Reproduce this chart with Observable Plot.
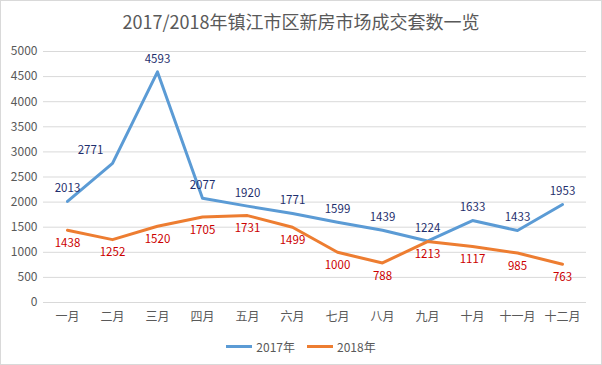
<!DOCTYPE html>
<html>
<head>
<meta charset="utf-8">
<script src="https://cdn.jsdelivr.net/npm/d3@7"></script>
<script src="https://cdn.jsdelivr.net/npm/@observablehq/plot@0.6"></script>
<style>
  html, body { margin: 0; padding: 0; background: #fff; }
  #frame { width: 602px; height: 365px; box-sizing: border-box; border: 1px solid #d9d9d9; overflow: hidden;
    font-family: "Noto Sans CJK SC", "Noto Sans", sans-serif; }
  #title { height: 40px; line-height: 40px; text-align: center; font-size: 18px; color: #595959; }
  #legend { height: 30px; display: flex; justify-content: center; align-items: center; gap: 6px;
    font-size: 12px; color: #595959; }
  .sw { display: inline-block; width: 26px; height: 3px; margin-right: 4px; vertical-align: middle; }
  .item { display: flex; align-items: center; margin: 0 3px; }
</style>
</head>
<body>
<div id="frame">
  <div id="title">2017/2018年镇江市区新房市场成交套数一览</div>
  <div id="chart"></div>
  <div id="legend"></div>
</div>
<script>
const months = ["一月","二月","三月","四月","五月","六月","七月","八月","九月","十月","十一月","十二月"];
const series = ["2017年", "2018年"];
const values2017 = [2013, 2771, 4593, 2077, 1920, 1771, 1599, 1439, 1224, 1633, 1433, 1953];
const values2018 = [1438, 1252, 1520, 1705, 1731, 1499, 1000, 788, 1213, 1117, 985, 763];
const yTicks = [0, 500, 1000, 1500, 2000, 2500, 3000, 3500, 4000, 4500, 5000];

const colors = {"2017年": "#5b9bd5", "2018年": "#ed7d31"};
const labelColors = {"2017年": "#1f2f6e", "2018年": "#cc0000"};

const data = [
  ...months.map((m, i) => ({month: m, series: series[0], value: values2017[i]})),
  ...months.map((m, i) => ({month: m, series: series[1], value: values2018[i]}))
];
const d17 = data.filter(d => d.series === series[0]);
const d18 = data.filter(d => d.series === series[1]);

const chart = Plot.plot({
  width: 600,
  height: 290,
  marginTop: 10,
  marginBottom: 29,
  marginLeft: 42,
  marginRight: 15,
  style: {fontFamily: '"Noto Sans CJK SC", "Noto Sans", sans-serif', background: "#fff"},
  x: {type: "point", domain: months, padding: 0.5, label: null},
  y: {domain: [0, 5000], ticks: yTicks, label: null},
  marks: [
    Plot.ruleY(yTicks, {stroke: "#d9d9d9", strokeWidth: 1}),
    Plot.axisY({ticks: yTicks, tickSize: 0, tickPadding: 6, tickFormat: d => String(d), fontSize: 12, color: "#595959", label: null}),
    Plot.axisX({tickSize: 0, tickPadding: 10, fontSize: 12, color: "#595959", label: null}),
    Plot.line(d17, {x: "month", y: "value", stroke: colors["2017年"], strokeWidth: 3}),
    Plot.line(d18, {x: "month", y: "value", stroke: colors["2018年"], strokeWidth: 3}),
    Plot.text(d17.filter(d => d.month !== "二月"), {x: "month", y: "value", text: d => String(d.value), dy: -13, fill: labelColors["2017年"], fontSize: 11.5}),
    Plot.text(d17.filter(d => d.month === "二月"), {x: "month", y: "value", text: d => String(d.value), dy: -13, dx: -22, fill: labelColors["2017年"], fontSize: 11.5}),
    Plot.text(d18, {x: "month", y: "value", text: d => String(d.value), dy: 13, fill: labelColors["2018年"], fontSize: 11.5})
  ]
});
document.getElementById("chart").appendChild(chart);

const legend = document.getElementById("legend");
series.forEach(s => {
  const item = document.createElement("span");
  item.className = "item";
  const sw = document.createElement("span");
  sw.className = "sw";
  sw.style.background = colors[s];
  item.appendChild(sw);
  item.appendChild(document.createTextNode(s));
  legend.appendChild(item);
});
</script>
</body>
</html>
